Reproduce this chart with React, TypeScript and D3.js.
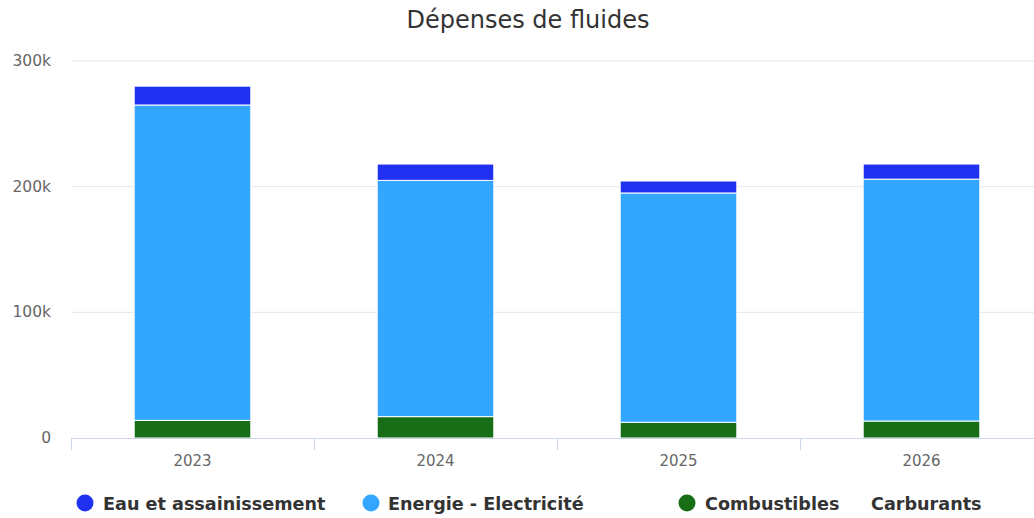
import React from "react";
import * as d3 from "d3";

const categories = ["2023", "2024", "2025", "2026"];
const seriesNames = ["Eau et assainissement", "Energie - Electricité", "Combustibles", "Carburants"];
const carburants = [0, 0, 0, 0];
const combustibles = [14000, 17000, 12500, 13500];
const energie = [251000, 188000, 182500, 192500];
const eau = [15000, 13000, 9500, 12000];
const yTicks = [0, 100000, 200000, 300000];
const yTickLabels = ["0", "100k", "200k", "300k"];

const colors: Record<string, string> = {
  "Eau et assainissement": "#2131F2",
  "Energie - Electricité": "#33A7FF",
  "Combustibles": "#176E17",
  "Carburants": "#ffffff",
};

const W = 1034;
const H = 518;
const left = 71;
const right = 1043;
const top = 61;
const bottom = 438;
const font = "'DejaVu Sans', Verdana, sans-serif";

export default function App() {
  const x = d3.scaleBand<string>().domain(categories).range([left, right]).paddingInner(0.52).paddingOuter(0.26);
  const xOuter = d3.scaleBand<string>().domain(categories).range([left, right]);
  const y = d3.scaleLinear().domain([0, 300000]).range([bottom, top]);

  const rows = categories.map((c, i) => ({
    cat: c,
    "Carburants": carburants[i],
    "Combustibles": combustibles[i],
    "Energie - Electricité": energie[i],
    "Eau et assainissement": eau[i],
  }));
  const stackOrder = ["Carburants", "Combustibles", "Energie - Electricité", "Eau et assainissement"];
  const stacked = d3.stack<any>().keys(stackOrder)(rows);

  const legendItems = [
    { name: seriesNames[0], mx: 85, tx: 103 },
    { name: seriesNames[1], mx: 371, tx: 388 },
    { name: seriesNames[2], mx: 687, tx: 705 },
    { name: seriesNames[3], mx: 853, tx: 871 },
  ];

  return (
    <svg width={W} height={H} style={{ position: "absolute", left: 0, top: 0, background: "#fff" }} fontFamily={font}>
      <text x={528} y={28} textAnchor="middle" fontSize={24} fill="#333">Dépenses de fluides</text>
      {yTicks.map((t, i) => (
        <g key={t}>
          {t !== 0 && <line x1={left} x2={W} y1={y(t)} y2={y(t)} stroke="#e6e6e6" strokeWidth={1} />}
          <text x={51} y={y(t) + 5} textAnchor="end" fontSize={15.5} fill="#666">{yTickLabels[i]}</text>
        </g>
      ))}
      {stacked.map((s) => (
        <g key={s.key} fill={colors[s.key]}>
          {s.map((d, i) => {
            const h = y(d[0]) - y(d[1]);
            if (h <= 0) return null;
            return (
              <rect key={i} x={x(categories[i])!} y={y(d[1])} width={x.bandwidth()} height={h} stroke="#fff" strokeWidth={1} />
            );
          })}
        </g>
      ))}
      <line x1={left} x2={W} y1={bottom + 0.5} y2={bottom + 0.5} stroke="#ccd6eb" strokeWidth={1} />
      {categories.map((c) => (
        <line key={"t" + c} x1={xOuter(c)! + 0.5} x2={xOuter(c)! + 0.5} y1={bottom} y2={bottom + 12} stroke="#ccd6eb" />
      ))}
      {categories.map((c) => (
        <text key={"l" + c} x={xOuter(c)! + xOuter.bandwidth() / 2} y={466} textAnchor="middle" fontSize={15} fill="#666">{c}</text>
      ))}
      {legendItems.map((l) => (
        <g key={l.name}>
          {l.name !== "Carburants" && <circle cx={l.mx} cy={503} r={8.5} fill={colors[l.name]} />}
          <text x={l.tx} y={509.5} fontSize={17.6} fontWeight="bold" fill="#333">{l.name}</text>
        </g>
      ))}
    </svg>
  );
}
